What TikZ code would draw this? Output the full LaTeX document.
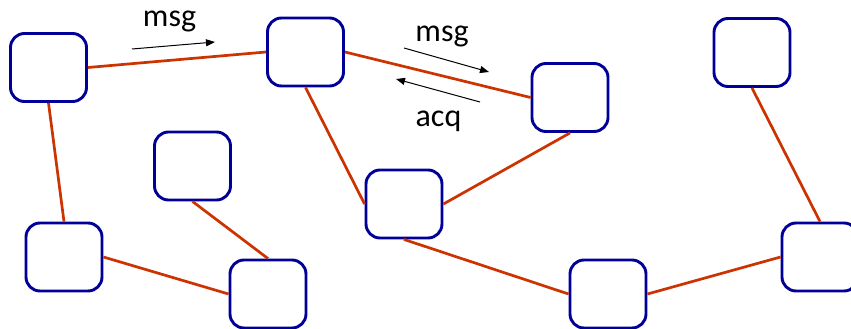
\documentclass[tikz,border=0pt]{standalone}
\usepackage{fontspec}
\setmainfont{Carlito}
\usetikzlibrary{arrows.meta}
\definecolor{boxblue}{RGB}{0,0,153}
\definecolor{linkred}{RGB}{204,51,0}
\tikzset{
  peer/.style={draw=boxblue, line width=2.9pt, rounded corners=14pt,
    minimum width=76pt, minimum height=68pt, inner sep=0pt, fill=white},
  link/.style={draw=linkred, line width=2.7pt},
  flow/.style={draw=black, line width=1pt, -{Triangle[length=9pt,width=7pt]}},
  lbl/.style={anchor=base, inner sep=0pt, font=\fontsize{32}{38}\selectfont}
}
\begin{document}
\begin{tikzpicture}[x=1pt,y=-1pt]
\useasboundingbox (0,0) rectangle (851,329);
% peers
\node[peer] (a) at (48.5,67.5) {};
\node[peer] (b) at (305.5,52) {};
\node[peer] (c) at (570,97.5) {};
\node[peer] (d) at (752,52.5) {};
\node[peer] (e) at (192.5,166) {};
\node[peer] (f) at (404,204) {};
\node[peer] (g) at (64,257) {};
\node[peer] (h) at (268,294) {};
\node[peer] (i) at (608,294) {};
\node[peer] (j) at (820,257) {};

% overlay links between peers
\draw[link] (a.east) -- (b.west);
\draw[link] (b.east) -- (c.west);
\draw[link] (b.south) -- (f.west);
\draw[link] (c.south) -- (f.east);
\draw[link] (a.south) -- (g.north);
\draw[link] (g.east) -- (h.west);
\draw[link] (e.south) -- (h.north);
\draw[link] (f.south) -- (i.west);
\draw[link] (i.east) -- (j.west);
\draw[link] (d.south) -- (j.north);

% message flows
\coordinate (m1s) at (132,49);
\coordinate (m1e) at (215,42);
\coordinate (m2s) at (404,48);
\coordinate (m2e) at (489,72);
\coordinate (q1s) at (480,102);
\coordinate (q1e) at (396,79);
\draw[flow] (m1s) -- (m1e);
\draw[flow] (m2s) -- (m2e);
\draw[flow] (q1s) -- (q1e);
\node[lbl] (t1) at (169.5,27) {msg};
\node[lbl] (t2) at (442,42) {msg};
\node[lbl] (t3) at (438.5,126) {acq};
\end{tikzpicture}
\end{document}
